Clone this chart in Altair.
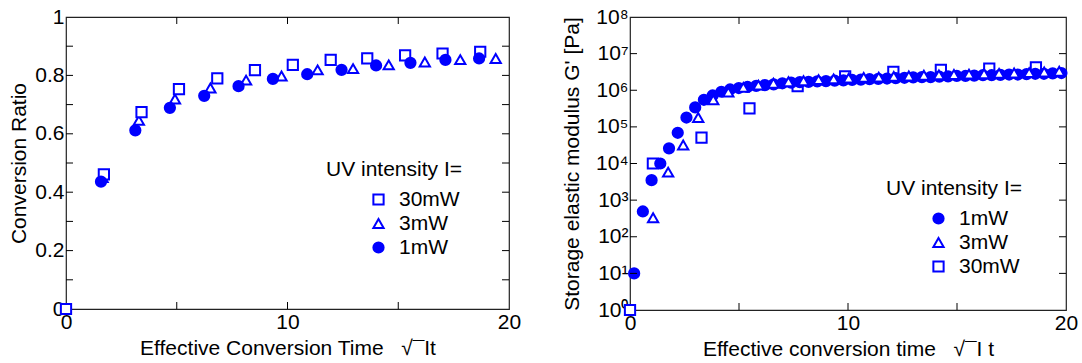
import altair as alt
import pandas as pd

# ---------------- Left panel: conversion ratio ----------------
conv_x_30 = [0.0, 1.71, 3.41, 5.10, 6.83, 8.53, 10.24, 11.95, 13.60, 15.31, 17.00, 18.70]
conv_y_30 = [0.0, 0.461, 0.674, 0.753, 0.790, 0.818, 0.836, 0.853, 0.858, 0.869, 0.875, 0.881]
conv_x_3 = [1.65, 3.29, 4.92, 6.52, 8.13, 9.73, 11.36, 12.96, 14.57, 16.20, 17.80, 19.40]
conv_y_3 = [0.45, 0.646, 0.719, 0.757, 0.784, 0.798, 0.819, 0.823, 0.836, 0.846, 0.854, 0.858]
conv_x_1 = [1.58, 3.13, 4.69, 6.24, 7.79, 9.34, 10.89, 12.44, 14.00, 15.55, 17.13, 18.65]
conv_y_1 = [0.436, 0.612, 0.689, 0.730, 0.763, 0.788, 0.804, 0.819, 0.834, 0.843, 0.853, 0.858]

# ---------------- Right panel: storage modulus G' [Pa] ----------------
mod_x_1 = [0.19, 0.59, 0.99, 1.39, 1.79, 2.19, 2.59, 2.99, 3.39, 3.79,
           4.19, 4.59, 4.99, 5.39, 5.79, 6.19, 6.59, 6.99, 7.39, 7.79,
           8.19, 8.59, 8.99, 9.39, 9.79, 10.19, 10.59, 10.99, 11.39, 11.79,
           12.19, 12.59, 12.99, 13.39, 13.79, 14.19, 14.59, 14.99, 15.39, 15.79,
           16.19, 16.59, 16.99, 17.39, 17.79, 18.19, 18.59, 18.99, 19.39, 19.79]
mod_y_1 = [10, 490, 3500, 1.0e4, 2.6e4, 6.9e4, 1.8e5, 3.4e5, 5.5e5, 7.2e5,
           9.1e5, 1.05e6, 1.15e6, 1.23e6, 1.32e6, 1.38e6, 1.45e6, 1.55e6, 1.62e6, 1.66e6,
           1.70e6, 1.74e6, 1.78e6, 1.82e6, 1.86e6, 1.91e6, 1.95e6, 2.0e6, 2.04e6, 2.09e6,
           2.14e6, 2.19e6, 2.24e6, 2.29e6, 2.29e6, 2.34e6, 2.40e6, 2.45e6, 2.45e6, 2.51e6,
           2.57e6, 2.57e6, 2.63e6, 2.69e6, 2.69e6, 2.75e6, 2.82e6, 2.82e6, 2.88e6, 2.95e6]
mod_x_3 = [1.06, 1.75, 2.44, 3.13, 3.82, 4.51, 5.20, 5.89, 6.58, 7.27,
           7.96, 8.65, 9.34, 10.03, 10.72, 11.41, 12.10, 12.79, 13.48, 14.17,
           14.86, 15.55, 16.24, 16.93, 17.62, 18.31, 19.00, 19.69]
mod_y_3 = [330, 5800, 3.2e4, 1.8e5, 5.5e5, 8.9e5, 1.2e6, 1.38e6, 1.55e6, 1.70e6,
           1.82e6, 1.95e6, 2.04e6, 2.14e6, 2.24e6, 2.29e6, 2.40e6, 2.45e6, 2.57e6, 2.63e6,
           2.69e6, 2.75e6, 2.82e6, 2.88e6, 2.95e6, 3.02e6, 3.16e6, 3.31e6]
mod_x_30 = [0.0, 1.05, 3.28, 5.48, 7.69, 9.87, 12.08, 14.26, 16.48, 18.62]
mod_y_30 = [1, 1.0e4, 5.1e4, 3.2e5, 1.3e6, 2.4e6, 3.2e6, 3.6e6, 3.9e6, 4.2e6]

BLUE = "#0000FF"
FONT = "Liberation Sans"
FS = 21

x_ticks = [5, 10, 15]
conv_y_ticks = [0.1, 0.2, 0.3, 0.4, 0.5, 0.6, 0.7, 0.8, 0.9]
mod_y_ticks = [1e1, 1e2, 1e3, 1e4, 1e5, 1e6, 1e7]


def frame_ticks(W, H, xscale, yscale, xaxis, yaxis, yt):
    tx = pd.DataFrame({"x": x_ticks})
    ty = pd.DataFrame({"y": yt})
    bx = alt.Chart(tx).mark_rule(color="black", strokeWidth=1)
    by = alt.Chart(ty).mark_rule(color="black", strokeWidth=1)
    return [
        bx.encode(x=alt.X("x:Q", scale=xscale, axis=xaxis), y=alt.value(H), y2=alt.value(H - 7)),
        bx.encode(x=alt.X("x:Q", scale=xscale, axis=xaxis), y=alt.value(0), y2=alt.value(7)),
        by.encode(y=alt.Y("y:Q", scale=yscale, axis=yaxis), x=alt.value(0), x2=alt.value(7)),
        by.encode(y=alt.Y("y:Q", scale=yscale, axis=yaxis), x=alt.value(W - 7), x2=alt.value(W)),
    ]


def legend(order, lx, ly):
    return alt.Legend(title="UV intensity I=", orient="none", legendX=lx, legendY=ly,
                      values=order)


# ---- left chart ----
lw, lh = 443, 292
left_rows = []
for s, xs, ys, z in [("3mW", conv_x_3, conv_y_3, 0), ("30mW", conv_x_30, conv_y_30, 1),
                     ("1mW", conv_x_1, conv_y_1, 2)]:
    for a, b in zip(xs, ys):
        left_rows.append({"x": a, "y": b, "series": s, "z": z})
ldf = pd.DataFrame(left_rows)
l_order = ["30mW", "3mW", "1mW"]
l_shape = ["square", "triangle-up", "circle"]
l_fill = ["white", "white", BLUE]
lxs = alt.Scale(domain=[0, 20], nice=False, zero=False)
lys = alt.Scale(domain=[0, 1], nice=False)
lxa = alt.Axis(values=[0, 10, 20],
               title="Effective Conversion Time\u00a0\u00a0\u00a0\u221a\u00afIt", format="~g")
lya = alt.Axis(values=[0, 0.2, 0.4, 0.6, 0.8, 1], title="Conversion Ratio", format="~g",
               titlePadding=5)
lleg = legend(l_order, 260, 142)
lpts = alt.Chart(ldf).mark_point(filled=True, opacity=1, strokeWidth=2, size=105).encode(
    x=alt.X("x:Q", scale=lxs, axis=lxa),
    y=alt.Y("y:Q", scale=lys, axis=lya),
    shape=alt.Shape("series:N", scale=alt.Scale(domain=l_order, range=l_shape), legend=lleg),
    fill=alt.Fill("series:N", scale=alt.Scale(domain=l_order, range=l_fill), legend=lleg),
    stroke=alt.Stroke("series:N", scale=alt.Scale(domain=l_order, range=[BLUE] * 3), legend=lleg),
    order=alt.Order("z:Q"),
)
left = alt.layer(lpts, *frame_ticks(lw, lh, lxs, lys, lxa, lya, conv_y_ticks)).properties(
    width=lw, height=lh)

# ---- right chart ----
rw, rh = 436, 293
right_rows = []
for s, xs, ys, z in [("30mW", mod_x_30, mod_y_30, 0), ("1mW", mod_x_1, mod_y_1, 1),
                     ("3mW", mod_x_3, mod_y_3, 2)]:
    for a, b in zip(xs, ys):
        right_rows.append({"x": a, "y": b, "series": s, "z": z})
rdf = pd.DataFrame(right_rows)
r_order = ["1mW", "3mW", "30mW"]
r_shape = ["circle", "triangle-up", "square"]
r_fill = [BLUE, "white", "white"]
rxs = alt.Scale(domain=[0, 20], nice=False, zero=False)
rys = alt.Scale(type="log", domain=[1, 1e8], nice=False)
sup = "['\u2070','\u00b9','\u00b2','\u00b3','\u2074','\u2075','\u2076','\u2077','\u2078']"
rxa = alt.Axis(values=[0, 10, 20],
               title="Effective conversion time\u00a0\u00a0\u00a0\u221a\u00afI t", format="~g")
rya = alt.Axis(values=[1, 1e1, 1e2, 1e3, 1e4, 1e5, 1e6, 1e7, 1e8],
               title="Storage elastic modulus G' [Pa]", titlePadding=13,
               labelExpr="'10' + " + sup + "[round(log(datum.value)/LN10)]")
rleg = legend(r_order, 256, 161)
rpts = alt.Chart(rdf).mark_point(filled=True, opacity=1, strokeWidth=2, size=105).encode(
    x=alt.X("x:Q", scale=rxs, axis=rxa),
    y=alt.Y("y:Q", scale=rys, axis=rya),
    shape=alt.Shape("series:N", scale=alt.Scale(domain=r_order, range=r_shape), legend=rleg),
    fill=alt.Fill("series:N", scale=alt.Scale(domain=r_order, range=r_fill), legend=rleg),
    stroke=alt.Stroke("series:N", scale=alt.Scale(domain=r_order, range=[BLUE] * 3), legend=rleg),
    order=alt.Order("z:Q"),
)
right = alt.layer(rpts, *frame_ticks(rw, rh, rxs, rys, rxa, rya, mod_y_ticks)).properties(
    width=rw, height=rh)

chart = alt.hconcat(left, right, spacing=39).resolve_scale(
    shape="independent", fill="independent", stroke="independent"
).configure(
    padding={"left": 8, "top": 5, "right": 0, "bottom": 0},
    font=FONT,
    background="white",
).configure_view(
    stroke="#222", strokeWidth=1.2
).configure_axis(
    domain=False, ticks=False, tickSize=0, grid=False,
    labelFont=FONT, labelFontSize=FS, labelColor="black", labelPadding=2,
    titleFont=FONT, titleFontSize=FS, titleFontWeight="normal", titleColor="black",
    labelFlush=False, labelOverlap=False,
).configure_axisX(
    titlePadding=5,
).configure_legend(
    titleFont=FONT, titleFontSize=FS, titleFontWeight="normal", titleColor="black",
    labelFont=FONT, labelFontSize=FS, labelColor="black",
    symbolSize=105, symbolStrokeWidth=2, symbolOffset=42, labelOffset=10,
    titlePadding=9, rowPadding=2, titleLimit=400,
)

chart.save("out.html", embed_options={"renderer": "svg", "actions": False})
